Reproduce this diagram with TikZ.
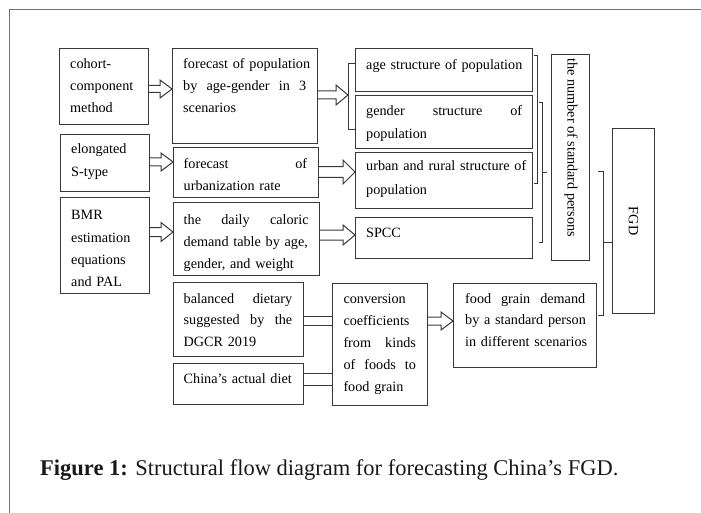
\documentclass[tikz,border=0pt]{standalone}
\usepackage{fontspec}
\usepackage{graphicx}
\setmainfont{Liberation Serif}
\usetikzlibrary{calc}
\newcommand\jl[2]{\leavevmode\hbox to #1{#2}}
\newcommand\blockarr[5]{%
  \draw[ln] let \p1=(#1), \p2=(#2) in
  (\x1,#3-#4) -- (\x2-12pt,#3-#4) -- (\x2-12pt,#3-#5) -- (\x2,#3)
  -- (\x2-12pt,#3+#5) -- (\x2-12pt,#3+#4) -- (\x1,#3+#4);}
\begin{document}
\begin{tikzpicture}[x=1pt,y=-1pt,line join=miter]
\tikzset{
  bx/.style={draw=black!78, line width=1.2pt, inner sep=0pt, anchor=north west},
  tx/.style={anchor=base west, inner sep=0pt, align=left, text=black,
             font=\fontsize{14.2}{22.2}\selectfont},
  ln/.style={draw=black!78, line width=1pt},
  brk/.style={draw=black!78, line width=0.8pt},
  frame/.style={draw=black!55, line width=1pt}
}
\useasboundingbox (0,0) rectangle (701,513);
\draw[frame] (9,513) -- (9,10) -- (701,10);

% boxes
\node[bx, minimum width=89pt,  minimum height=76pt]  (A) at (59,48) {};
\node[bx, minimum width=145pt, minimum height=95pt]  (B) at (172,48) {};
\node[bx, minimum width=89pt,  minimum height=57pt]  (C) at (60,134) {};
\node[bx, minimum width=145pt, minimum height=50pt]  (D) at (173,147) {};
\node[bx, minimum width=89pt,  minimum height=96pt]  (E) at (60,197) {};
\node[bx, minimum width=146pt, minimum height=73pt]  (F) at (173,202) {};
\node[bx, minimum width=177pt, minimum height=43pt]  (G) at (355,48) {};
\node[bx, minimum width=177pt, minimum height=53pt]  (H) at (355,95) {};
\node[bx, minimum width=177pt, minimum height=56pt]  (I) at (355,152) {};
\node[bx, minimum width=177pt, minimum height=41pt]  (J) at (355,217) {};
\node[bx, minimum width=38pt,  minimum height=206pt] (K) at (551,54) {};
\node[bx, minimum width=42pt,  minimum height=185pt] (L) at (612,128) {};
\node[bx, minimum width=130pt, minimum height=74pt]  (M) at (173,282) {};
\node[bx, minimum width=130pt, minimum height=41pt]  (N) at (173,363) {};
\node[bx, minimum width=95pt,  minimum height=122pt] (O) at (332,283) {};
\node[bx, minimum width=143pt, minimum height=84pt]  (P) at (453,283) {};

% texts
\node[tx, text width=67pt] (At) at (70,68.3) {\mbox{cohort-}\\\mbox{component}\\\mbox{method}};
\node[tx, text width=123pt] (Bt) at (183,68.3) {\mbox{forecast of population}\\\jl{123pt}{by\hfill age-gender\hfill in\hfill 3}\\\mbox{scenarios}};
\node[tx, text width=67pt, font=\fontsize{14.2}{23.5}\selectfont] (Ct) at (71,153.3) {\mbox{elongated}\\\mbox{S-type}};
\node[tx, text width=123.5pt] (Dt) at (183.5,168.3) {\jl{123.5pt}{forecast\hfill of}\\\mbox{urbanization rate}};
\node[tx, text width=67pt, font=\fontsize{14.2}{22.3}\selectfont] (Et) at (71,219.7) {\mbox{BMR}\\\mbox{estimation}\\\mbox{equations}\\\mbox{and PAL}};
\node[tx, text width=125pt] (Ft) at (183.5,224.3) {\jl{125pt}{the\hfill daily\hfill caloric}\\\mbox{demand table by age,}\\\mbox{gender, and weight}};
\node[tx, text width=156pt] (Gt) at (366,69.3) {\mbox{age structure of population}};
\node[tx, text width=156pt, font=\fontsize{14.2}{23.3}\selectfont] (Ht) at (366,115.3) {\jl{156pt}{gender\hfill structure\hfill of}\\\mbox{population}};
\node[tx, text width=156pt, font=\fontsize{14.2}{24.3}\selectfont] (It) at (366,170.3) {\mbox{urban and rural structure of}\\\mbox{population}};
\node[tx, text width=156pt] (Jt) at (366,237.7) {\mbox{SPCC}};
\node[tx, text width=108.5pt, font=\fontsize{14.2}{21.6}\selectfont] (Mt) at (183.5,303.3) {\jl{108.5pt}{balanced\hfill dietary}\\\jl{108.5pt}{suggested\hfill by\hfill the}\\\mbox{DGCR 2019}};
\node[tx, text width=108.5pt] (Nt) at (183.5,383.3) {\mbox{China’s actual diet}};
\node[tx, text width=72.5pt, font=\fontsize{14.2}{22}\selectfont] (Ot) at (343.3,303.3) {\mbox{conversion}\\\mbox{coefficients}\\\jl{72.5pt}{from\hfill kinds}\\\jl{72.5pt}{of\hfill foods\hfill to}\\\mbox{food grain}};
\node[tx, text width=120pt, font=\fontsize{14.2}{21.6}\selectfont] (Pt) at (465,303.3) {\jl{120pt}{food\hfill grain\hfill demand}\\\mbox{by a standard person}\\\mbox{in different scenarios}};
\node[tx, rotate=-90, anchor=base west] (Kt) at (567.5,58.3) {the number of standard persons};
\node[tx, rotate=-90, anchor=center] (Lt) at (L.center) {FGD};

% block arrows
\coordinate (brL) at (348,95);
\blockarr{A.east}{B.west}{89}{3.5}{9}
\blockarr{B.east}{brL}{95}{4}{10}
\blockarr{C.east}{D.west}{162}{4}{9}
\blockarr{D.east}{I.west}{172}{5.3}{12}
\blockarr{E.east}{F.west}{232}{4.5}{9.5}
\blockarr{F.east}{J.west}{235}{5}{10}
\blockarr{O.east}{P.west}{321}{4}{9}

% double connectors into conversion box
\draw[ln] let \p1=(M.east), \p2=(O.west) in (\x1,316) -- (\x2,316) (\x1,325) -- (\x2,325);
\draw[ln] let \p1=(N.east), \p2=(O.west) in (\x1,373) -- (\x2,373) (\x1,385) -- (\x2,385);

% brackets
\draw[brk] let \p1=(G.west), \p2=(H.west) in (\x1,63) -- (348,63) -- (348,129) -- (\x2,129);
\draw[brk] let \p1=(G.east) in (\x1+1pt,55) -- (537,55) -- (537,183) -- (\x1+1pt,183);
\draw[brk] let \p1=(H.east), \p2=(K.west) in (\x1+6pt,102) -- (542,102) -- (542,242) -- (\x1+6pt,242)
  (542,172) -- (\x2-4pt,172);
\draw[brk] let \p1=(P.east), \p2=(L.west) in (\x1+1pt,171) -- (603,171) -- (603,315) -- (\x1+1pt,315)
  (603,242) -- (\x2,242);

% caption
\node[anchor=base west, inner sep=0pt, text=black!90, font=\fontsize{22.5}{24}\selectfont] (cap) at (40,475)
  {\textbf{Figure 1:} Structural flow diagram for forecasting China’s FGD.};
\end{tikzpicture}
\end{document}
